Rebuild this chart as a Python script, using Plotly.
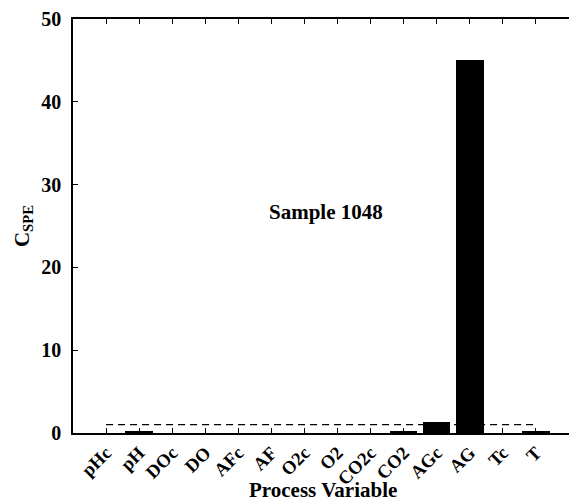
import plotly.graph_objects as go

# Contribution of each process variable to the SPE statistic
variables = ["pHc", "pH", "DOc", "DO", "AFc", "AF", "O2c", "O2",
             "CO2c", "CO2", "AGc", "AG", "Tc", "T"]
contributions = [0.0, 0.2, 0.0, 0.0, 0.0, 0.0, 0.0, 0.0,
                 0.0, 0.2, 1.35, 45.1, 0.0, 0.2]
control_limit = 1.0
sample_label = "Sample 1048"

font_family = "Liberation Serif, Times New Roman, serif"
positions = list(range(len(variables)))

fig = go.Figure()
fig.add_trace(go.Bar(
    x=positions, y=contributions, width=0.83,
    marker=dict(color="black", line=dict(width=0)),
    showlegend=False,
))
fig.add_trace(go.Scatter(
    x=[positions[0], positions[-1]], y=[control_limit, control_limit],
    mode="lines", line=dict(color="black", width=1.2, dash="7px,5px"),
    showlegend=False,
))

fig.add_annotation(
    x=6.66, y=26.7, text="<b>" + sample_label + "</b>", showarrow=False,
    font=dict(family=font_family, size=21, color="black"),
)
# x-axis title placed below the rotated category labels
fig.add_annotation(
    x=0.505, y=-0.137, xref="paper", yref="paper",
    text="<b>Process Variable</b>", showarrow=False,
    xanchor="center", yanchor="middle",
    font=dict(family=font_family, size=21, color="black"),
)

fig.update_layout(
    width=569, height=504,
    margin=dict(l=73, r=0, t=19, b=71, autoexpand=False),
    paper_bgcolor="white", plot_bgcolor="white",
    font=dict(family=font_family, size=20, color="black"),
    bargap=0,
    xaxis=dict(
        range=[-1, 14], tickmode="array", tickvals=positions,
        ticktext=["<b>" + v + "</b>" for v in variables],
        tickangle=-45, ticks="inside", ticklen=5, tickcolor="black",
        showline=True, linecolor="black", linewidth=1.5, mirror="ticks",
        showgrid=False, zeroline=False, automargin=False,
        ticklabelstandoff=0,
        tickfont=dict(size=18.5),
    ),
    yaxis=dict(
        range=[0, 50], tickvals=[0, 10, 20, 30, 40, 50],
        ticktext=["<b>%d</b>" % v for v in [0, 10, 20, 30, 40, 50]],
        ticks="inside", ticklen=5, tickcolor="black",
        showline=True, linecolor="black", linewidth=1.5,
        showgrid=False, zeroline=False, automargin=False,
        ticklabelstandoff=6,
        title=dict(text="<b>C<sub>SPE</sub></b>", standoff=6,
                   font=dict(size=21)),
        tickfont=dict(size=20),
    ),
)

fig.write_html("out.html")
